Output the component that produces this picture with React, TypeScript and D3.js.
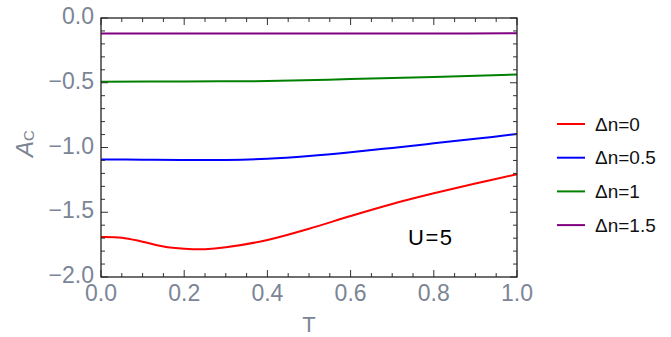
import React from "react";
import * as d3 from "d3";

const tRed = [0, 0.05, 0.1, 0.15, 0.2, 0.25, 0.3, 0.4, 0.5, 0.6, 0.7, 0.8, 0.9, 1.0];
const aRed = [-1.691, -1.696, -1.727, -1.764, -1.781, -1.785, -1.771, -1.714, -1.627, -1.529, -1.436, -1.354, -1.278, -1.207];

const tBlue = [0, 0.1, 0.2, 0.3, 0.4, 0.5, 0.6, 0.7, 0.8, 0.9, 1.0];
const aBlue = [-1.092, -1.094, -1.097, -1.096, -1.087, -1.066, -1.037, -1.003, -0.968, -0.933, -0.896];

const tGreen = [0, 0.2, 0.4, 0.6, 0.8, 1.0];
const aGreen = [-0.493, -0.49, -0.487, -0.472, -0.455, -0.437];

const tPurple = [0, 0.2, 0.4, 0.6, 0.8, 1.0];
const aPurple = [-0.12, -0.12, -0.12, -0.12, -0.12, -0.118];

const seriesLabels = ["Δn=0", "Δn=0.5", "Δn=1", "Δn=1.5"];
const seriesColors = ["#ff0000", "#0000ff", "#008000", "#800080"];

const xTicks = [0, 0.2, 0.4, 0.6, 0.8, 1.0];
const yTicks = [0, -0.5, -1.0, -1.5, -2.0];

const width = 671;
const height = 337;
const margin = { top: 18, right: 154, bottom: 60, left: 101 };
const font = "'Liberation Sans', Arial, sans-serif";
const tickColor = "#7b8595";

const App = () => {
  const innerWidth = width - margin.left - margin.right;
  const innerHeight = height - margin.top - margin.bottom;

  const xScale = d3.scaleLinear().domain([0, 1]).range([0, innerWidth]);
  const yScale = d3.scaleLinear().domain([-2, 0]).range([innerHeight, 0]);

  const series = [
    tRed.map((t, i) => [t, aRed[i]]),
    tBlue.map((t, i) => [t, aBlue[i]]),
    tGreen.map((t, i) => [t, aGreen[i]]),
    tPurple.map((t, i) => [t, aPurple[i]]),
  ];

  const lineGen = d3
    .line<number[]>()
    .x((d) => xScale(d[0]))
    .y((d) => yScale(d[1]))
    .curve(d3.curveCatmullRom.alpha(0.5));

  const xMinor = d3.range(0, 1.0001, 0.05);
  const yMinor = d3.range(-2, 0.0001, 0.1);
  const isMajorX = (v) => Math.abs(v * 5 - Math.round(v * 5)) < 1e-6;
  const isMajorY = (v) => Math.abs(v * 2 - Math.round(v * 2)) < 1e-6;

  return (
    <svg
      width={width}
      height={height}
      style={{ position: "absolute", left: 0, top: 0, background: "#fff" }}
    >
      <g transform={`translate(${margin.left},${margin.top})`}>
        {series.map((s, i) => (
          <path
            key={i}
            d={lineGen(s) || ""}
            fill="none"
            stroke={seriesColors[i]}
            strokeWidth={2}
          />
        ))}

        {xMinor.map((v, i) => {
          const len = isMajorX(v) ? 7 : 4;
          const x = xScale(v);
          return (
            <g key={"xt" + i} stroke="#333" strokeWidth={1}>
              <line x1={x} x2={x} y1={innerHeight} y2={innerHeight - len} />
              <line x1={x} x2={x} y1={0} y2={len} />
            </g>
          );
        })}
        {yMinor.map((v, i) => {
          const len = isMajorY(v) ? 7 : 4;
          const y = yScale(v);
          return (
            <g key={"yt" + i} stroke="#333" strokeWidth={1}>
              <line x1={0} x2={len} y1={y} y2={y} />
              <line x1={innerWidth} x2={innerWidth - len} y1={y} y2={y} />
            </g>
          );
        })}

        <rect
          x={0}
          y={0}
          width={innerWidth}
          height={innerHeight}
          fill="none"
          stroke="#222"
          strokeWidth={1.3}
        />

        {xTicks.map((v) => (
          <text
            key={"xl" + v}
            x={xScale(v)}
            y={innerHeight + 24}
            textAnchor="middle"
            fontFamily={font}
            fontSize={23}
            fill={tickColor}
          >
            {v.toFixed(1)}
          </text>
        ))}
        {yTicks.map((v) => (
          <text
            key={"yl" + v}
            x={-7}
            y={yScale(v) + 6}
            textAnchor="end"
            fontFamily={font}
            fontSize={23}
            fill={tickColor}
          >
            {v === 0 ? "0.0" : "\u2212" + Math.abs(v).toFixed(1)}
          </text>
        ))}

        <text
          x={innerWidth / 2}
          y={innerHeight + 55}
          textAnchor="middle"
          fontFamily={font}
          fontSize={22}
          fill={tickColor}
        >
          T
        </text>

        <text
          transform={`translate(${33 - margin.left},${innerHeight / 2 - 4}) rotate(-90)`}
          textAnchor="middle"
          fontFamily={font}
          fill={tickColor}
        >
          <tspan fontSize={24} fontStyle="italic">A</tspan>
          <tspan fontSize={15} dy={1}>C</tspan>
        </text>

        <text
          x={408 - margin.left}
          y={245 - margin.top}
          fontFamily={font}
          fontSize={22}
          letterSpacing={1.5}
          fill="#000"
        >
          U=5
        </text>
      </g>

      {seriesLabels.map((label, i) => {
        const y = 124 + i * 33.7;
        return (
          <g key={label}>
            <line x1={557} x2={585} y1={y} y2={y} stroke={seriesColors[i]} strokeWidth={2} />
            <text
              x={595}
              y={y}
              dominantBaseline="central"
              fontFamily={font}
              fontSize={19}
              fill="#111"
            >
              {label}
            </text>
          </g>
        );
      })}
    </svg>
  );
};

export default App;
